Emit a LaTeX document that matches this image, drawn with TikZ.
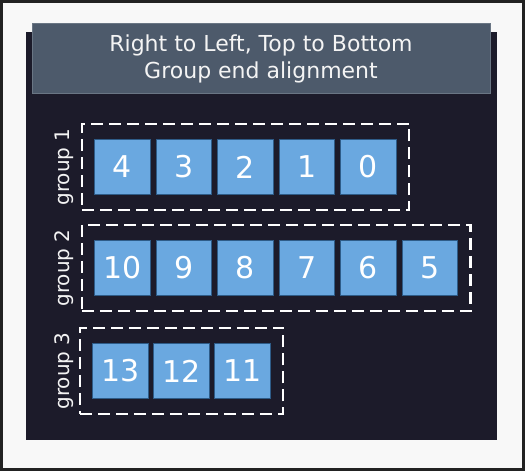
\documentclass[tikz,border=0pt]{standalone}
\usepackage{fontspec}
\setmainfont{DejaVu Sans}
\usetikzlibrary{fit}
\definecolor{pageBg}{HTML}{F8F8F8}
\definecolor{frameDraw}{HTML}{222222}
\definecolor{panelFill}{HTML}{1C1B2A}
\definecolor{titleFill}{HTML}{4D5A6B}
\definecolor{titleDraw}{HTML}{6A7684}
\definecolor{cellFill}{HTML}{6AA8E0}
\definecolor{cellDraw}{HTML}{2E5C88}
\definecolor{txtLight}{HTML}{F4F4F4}

\begin{document}
\begin{tikzpicture}[
  x=1pt,y=-1pt,
  cell/.style={rectangle,draw=cellDraw,fill=cellFill,line width=0.8pt,
    minimum size=55.5pt,inner sep=0pt,text=white,font=\fontsize{30}{36}\selectfont},
  grp/.style={draw=white,line width=2.5pt,dash pattern=on 12pt off 6pt,
    inner xsep=12.5pt,inner ysep=15pt},
  grplbl/.style={rotate=90,text=txtLight,font=\fontsize{20}{24}\selectfont},
  ttl/.style={rectangle,fill=titleFill,draw=titleDraw,line width=0.6pt,
    minimum width=458pt,minimum height=70pt,align=center,text=txtLight,
    font=\fontsize{22}{27}\selectfont},
]

% ---- page, panel and title ----------------------------------------------
\useasboundingbox (0,0) rectangle (525,471);
\fill[pageBg] (0,0) rectangle (525,471);
\draw[frameDraw,line width=3pt] (1.5,1.5) rectangle (523.5,469.5);
\fill[panelFill] (26,32) rectangle (497,440);
\node[ttl] (title) at (261,58.5) {Right to Left, Top to Bottom\\Group end alignment};

% ---- cells --------------------------------------------------------------
% group 1
\foreach \i/\t in {0/4,1/3,2/2,3/1,4/0}
  \node[cell] (A\i) at (122.5+61.5*\i,167) {\t};
% group 2
\foreach \i/\t in {0/10,1/9,2/8,3/7,4/6,5/5}
  \node[cell] (B\i) at (122.5+61.5*\i,268) {\t};
% group 3
\foreach \i/\t in {0/13,1/12,2/11}
  \node[cell] (C\i) at (120.5+61*\i,371) {\t};

% ---- dashed group frames and captions -----------------------------------
\node[grp,fit=(A0)(A4)] (G1) {};
\node[grp,fit=(B0)(B5)] (G2) {};
\node[grp,fit=(C0)(C2)] (G3) {};
\node[grplbl] (L1) at (64,167) {group 1};
\node[grplbl] (L2) at (64,268) {group 2};
\node[grplbl] (L3) at (64,371) {group 3};

\end{tikzpicture}
\end{document}
